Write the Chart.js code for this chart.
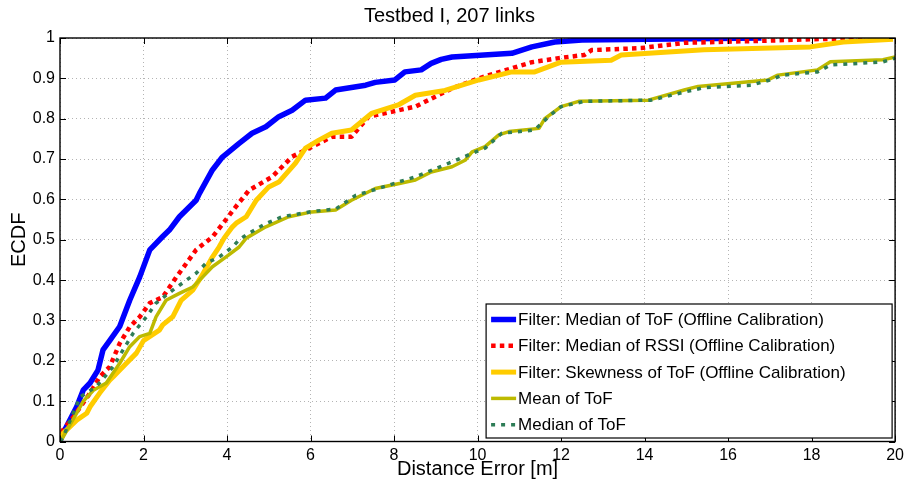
<!DOCTYPE html>
<html>
<head>
<meta charset="utf-8">
<script src="https://cdn.jsdelivr.net/npm/chart.js@4/dist/chart.umd.min.js"></script>
<style>
  html, body { margin: 0; padding: 0; background: #fff; }
  #c { display: block; }
</style>
</head>
<body>
<canvas id="c" width="908" height="481"></canvas>
<script>
// ECDF of distance error per method (x: distance error in m, y: cumulative fraction)
const seriesLabels = [
  'Filter: Median of ToF (Offline Calibration)',
  'Filter: Median of RSSI (Offline Calibration)',
  'Filter: Skewness of ToF (Offline Calibration)',
  'Mean of ToF',
  'Median of ToF'
];

const medToFFilterX = [0, 0.07, 0.4, 0.56, 0.72, 0.91, 1.03, 1.19, 1.43, 1.67, 1.91, 2.15, 2.46, 2.62, 2.86, 3.26, 3.34, 3.65, 3.89, 4.29, 4.6, 4.93, 5.24, 5.56, 5.88, 6.36, 6.6, 7.32, 7.55, 8.02, 8.26, 8.65, 8.89, 9.13, 9.39, 10.82, 11.3, 11.85, 12.5, 16.8];
const medToFFilterY = [0, 0.02, 0.086, 0.128, 0.145, 0.177, 0.227, 0.25, 0.285, 0.35, 0.408, 0.475, 0.508, 0.524, 0.557, 0.598, 0.615, 0.673, 0.705, 0.739, 0.764, 0.78, 0.805, 0.821, 0.846, 0.851, 0.871, 0.883, 0.89, 0.896, 0.916, 0.921, 0.937, 0.947, 0.953, 0.962, 0.978, 0.99, 0.995, 1.0];

const medRssiFilterX = [0, 0.07, 0.32, 0.72, 0.95, 1.19, 1.43, 1.67, 1.91, 2.15, 2.46, 2.79, 3.03, 3.26, 3.65, 3.97, 4.15, 4.53, 5.08, 5.56, 6.03, 6.51, 6.98, 7.39, 7.94, 8.51, 8.82, 9.39, 10.03, 10.82, 11.3, 11.94, 12.56, 12.73, 13.92, 14.95, 16.78, 18.05, 19.3];
const medRssiFilterY = [0, 0.028, 0.061, 0.12, 0.16, 0.185, 0.243, 0.284, 0.309, 0.343, 0.358, 0.408, 0.442, 0.475, 0.507, 0.549, 0.574, 0.623, 0.656, 0.706, 0.73, 0.755, 0.755, 0.805, 0.817, 0.83, 0.846, 0.875, 0.9, 0.925, 0.94, 0.95, 0.958, 0.97, 0.975, 0.988, 0.993, 0.997, 1.0];

const skewToFFilterX = [0, 0.07, 0.4, 0.64, 0.72, 0.95, 1.19, 1.27, 1.59, 1.83, 2.0, 2.38, 2.46, 2.7, 2.9, 3.18, 3.38, 3.65, 3.81, 3.93, 4.13, 4.22, 4.46, 4.7, 5.0, 5.24, 5.64, 5.88, 6.2, 6.51, 6.98, 7.46, 8.1, 8.51, 9.22, 10.03, 10.82, 11.37, 12.0, 13.2, 13.44, 15.42, 17.97, 18.76, 19.95];
const skewToFFilterY = [0, 0.02, 0.053, 0.07, 0.086, 0.12, 0.152, 0.16, 0.194, 0.219, 0.25, 0.276, 0.289, 0.309, 0.35, 0.375, 0.408, 0.457, 0.482, 0.504, 0.532, 0.541, 0.557, 0.598, 0.631, 0.643, 0.69, 0.727, 0.747, 0.764, 0.772, 0.813, 0.834, 0.858, 0.87, 0.896, 0.916, 0.916, 0.94, 0.945, 0.958, 0.971, 0.978, 0.99, 0.997];

const meanToFX = [0, 0.07, 0.56, 0.8, 1.11, 1.43, 1.67, 1.91, 2.15, 2.3, 2.54, 2.86, 3.18, 3.42, 3.65, 3.97, 4.29, 4.46, 4.93, 5.48, 6.03, 6.6, 6.98, 7.55, 8.1, 8.51, 8.89, 9.39, 9.7, 9.87, 10.18, 10.51, 10.75, 11.47, 11.61, 12.0, 12.42, 14.09, 14.95, 15.28, 16.95, 17.19, 18.14, 18.45, 19.71, 20];
const meanToFY = [0, 0.01, 0.1, 0.127, 0.145, 0.194, 0.235, 0.26, 0.268, 0.309, 0.35, 0.367, 0.383, 0.408, 0.433, 0.457, 0.482, 0.504, 0.532, 0.557, 0.569, 0.574, 0.598, 0.627, 0.639, 0.648, 0.668, 0.681, 0.697, 0.718, 0.731, 0.76, 0.768, 0.776, 0.8, 0.83, 0.843, 0.846, 0.871, 0.88, 0.896, 0.908, 0.921, 0.941, 0.946, 0.953];

const medToFX = [0, 0.07, 0.48, 0.87, 1.27, 1.51, 1.75, 2.07, 2.3, 2.7, 3.03, 3.26, 3.5, 3.81, 4.13, 4.29, 4.46, 4.93, 5.32, 6.03, 6.6, 7.08, 7.63, 8.1, 8.51, 9.39, 9.87, 10.18, 10.58, 11.37, 11.7, 12.0, 12.56, 14.16, 14.95, 15.42, 16.55, 17.0, 17.31, 18.14, 18.45, 19.71, 20];
const medToFY = [0, 0.01, 0.11, 0.136, 0.185, 0.227, 0.268, 0.309, 0.343, 0.375, 0.4, 0.417, 0.442, 0.457, 0.482, 0.5, 0.512, 0.54, 0.557, 0.57, 0.576, 0.61, 0.627, 0.643, 0.656, 0.693, 0.714, 0.727, 0.764, 0.772, 0.805, 0.83, 0.843, 0.846, 0.866, 0.877, 0.883, 0.896, 0.908, 0.916, 0.933, 0.941, 0.95];

const xTickLabels = ['0', '2', '4', '6', '8', '10', '12', '14', '16', '18', '20'];
const yTickLabels = ['0', '0.1', '0.2', '0.3', '0.4', '0.5', '0.6', '0.7', '0.8', '0.9', '1'];

const FONT = '"Liberation Sans", Arial, Helvetica, sans-serif';

function pts(xs, ys) { return xs.map((x, i) => ({ x: x, y: ys[i] })); }

// Matlab-like styles; later series are painted above earlier ones
const styles = [
  { color: '#0000FF', width: 5.5, dash: [],          order: 4 },
  { color: '#FF0000', width: 4.5, dash: [4.5, 4.2],  order: 3 },
  { color: '#FFCC00', width: 5,   dash: [],          order: 2 },
  { color: '#BDBA00', width: 3.5, dash: [],          order: 1 },
  { color: '#2E7D57', width: 3.5, dash: [4, 6],      order: 0 }
];
const seriesData = [
  pts(medToFFilterX, medToFFilterY),
  pts(medRssiFilterX, medRssiFilterY),
  pts(skewToFFilterX, skewToFFilterY),
  pts(meanToFX, meanToFY),
  pts(medToFX, medToFY)
];

const datasets = seriesData.map((d, i) => ({
  label: seriesLabels[i],
  data: d,
  borderColor: styles[i].color,
  backgroundColor: styles[i].color,
  borderWidth: styles[i].width,
  borderDash: styles[i].dash,
  borderCapStyle: 'butt',
  borderJoinStyle: 'round',
  pointRadius: 0,
  tension: 0,
  fill: false,
  order: styles[i].order
}));

// Axes box with inward tick marks on all four sides
const framePlugin = {
  id: 'frame',
  afterDatasetsDraw(chart) {
    const { ctx, chartArea: a, scales: { x, y } } = chart;
    ctx.save();
    ctx.strokeStyle = '#000';
    ctx.lineWidth = 1;
    ctx.beginPath();
    x.ticks.forEach(t => {
      const px = Math.round(x.getPixelForValue(t.value)) + 0.5;
      ctx.moveTo(px, a.bottom); ctx.lineTo(px, a.bottom - 6);
      ctx.moveTo(px, a.top); ctx.lineTo(px, a.top + 6);
    });
    y.ticks.forEach(t => {
      const py = Math.round(y.getPixelForValue(t.value)) + 0.5;
      ctx.moveTo(a.left, py); ctx.lineTo(a.left + 6, py);
      ctx.moveTo(a.right, py); ctx.lineTo(a.right - 6, py);
    });
    ctx.stroke();
    ctx.lineWidth = 1.4;
    ctx.strokeRect(a.left, a.top, a.right - a.left, a.bottom - a.top);
    ctx.restore();
  }
};

// Boxed legend placed in the lower right corner of the plot
const legendPlugin = {
  id: 'boxLegend',
  afterDraw(chart) {
    const { ctx, chartArea: a } = chart;
    const w = 406, h = 134;
    const left = a.right - 3 - w, top = a.bottom - 3.5 - h;
    ctx.save();
    ctx.fillStyle = '#fff';
    ctx.fillRect(left, top, w, h);
    ctx.strokeStyle = '#000';
    ctx.lineWidth = 1.2;
    ctx.strokeRect(left, top, w, h);
    ctx.font = '17px ' + FONT;
    ctx.textBaseline = 'middle';
    ctx.textAlign = 'left';
    chart.data.datasets.forEach((ds, i) => {
      const cy = top + 15.5 + i * 26.3;
      ctx.beginPath();
      ctx.strokeStyle = ds.borderColor;
      ctx.lineWidth = ds.borderWidth;
      ctx.setLineDash(ds.borderDash);
      ctx.lineCap = 'butt';
      ctx.moveTo(left + 5, cy);
      ctx.lineTo(left + 30, cy);
      ctx.stroke();
      ctx.setLineDash([]);
      ctx.fillStyle = '#000';
      ctx.fillText(ds.label, left + 32, cy + 1);
    });
    ctx.restore();
  }
};

new Chart(document.getElementById('c'), {
  type: 'line',
  data: { datasets: datasets },
  plugins: [framePlugin, legendPlugin],
  options: {
    responsive: false,
    animation: false,
    layout: { padding: { left: 0, right: 9, top: 0, bottom: 0 } },
    plugins: {
      legend: { display: false },
      tooltip: { enabled: false },
      title: {
        display: true,
        text: 'Testbed I, 207 links',
        color: '#000',
        font: { family: FONT, size: 20, weight: 'normal' },
        padding: { top: 4, bottom: 10 }
      }
    },
    scales: {
      x: {
        type: 'linear',
        min: 0, max: 20,
        ticks: {
          stepSize: 2,
          color: '#000',
          autoSkip: false,
          maxRotation: 0,
          padding: 4,
          font: { family: FONT, size: 16 },
          callback: (v, i) => xTickLabels[i]
        },
        grid: { color: '#b4b4b4', lineWidth: 1, drawTicks: false },
        border: { display: false, dash: [1, 3] },
        title: {
          display: true,
          text: 'Distance Error [m]',
          color: '#000',
          font: { family: FONT, size: 20 },
          padding: { top: 0, bottom: 0 }
        },
        afterFit(s) { s.height = 39.5; }
      },
      y: {
        type: 'linear',
        min: 0, max: 1,
        ticks: {
          stepSize: 0.1,
          color: '#000',
          autoSkip: false,
          padding: 5,
          font: { family: FONT, size: 16 },
          callback: (v, i) => yTickLabels[i]
        },
        grid: { color: '#b4b4b4', lineWidth: 1, drawTicks: false },
        border: { display: false, dash: [1, 3] },
        title: {
          display: true,
          text: 'ECDF',
          color: '#000',
          font: { family: FONT, size: 20 },
          padding: { top: 7, bottom: 0 }
        },
        afterFit(s) { s.width = 60; }
      }
    }
  }
});
</script>
</body>
</html>
